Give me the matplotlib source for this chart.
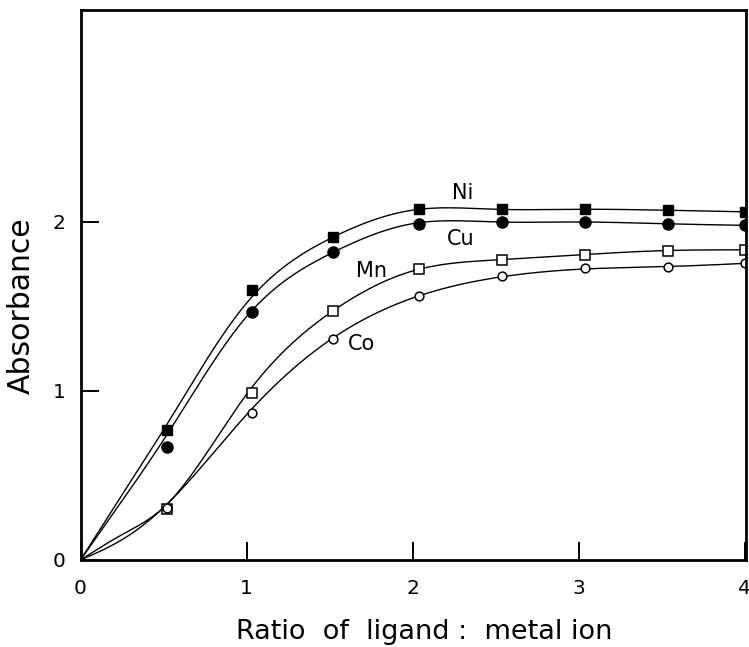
import numpy as np
import matplotlib
matplotlib.use("Agg")
import matplotlib.pyplot as plt

# Measured points (ratio of ligand : metal ion, absorbance)
x_pts = [0.52, 1.03, 1.52, 2.04, 2.54, 3.04, 3.54, 4.0]
ni_pts = [0.77, 1.60, 1.91, 2.075, 2.075, 2.075, 2.07, 2.06]
cu_pts = [0.67, 1.47, 1.82, 1.99, 2.00, 2.00, 1.99, 1.98]
mn_pts = [0.30, 0.99, 1.475, 1.72, 1.775, 1.805, 1.83, 1.835]
co_pts = [0.31, 0.87, 1.31, 1.56, 1.68, 1.725, 1.735, 1.755]

# Smooth fitted curves (node values)
x_fit = [0.0, 0.25, 0.5, 1.0, 1.5, 2.0, 2.5, 3.0, 3.5, 4.0]
ni_fit = [0.0, 0.385, 0.77, 1.52, 1.90, 2.07, 2.075, 2.075, 2.07, 2.06]
cu_fit = [0.0, 0.35, 0.71, 1.44, 1.81, 1.99, 2.00, 2.00, 1.99, 1.98]
mn_fit = [0.0, 0.15, 0.31, 0.98, 1.46, 1.71, 1.775, 1.805, 1.83, 1.835]
co_fit = [0.0, 0.12, 0.31, 0.86, 1.30, 1.55, 1.67, 1.72, 1.735, 1.755]

labels = ["Ni", "Cu", "Mn", "Co"]
label_pos = [(2.30, 2.17), (2.29, 1.90), (1.75, 1.71), (1.69, 1.28)]

x_ticks = [0, 1, 2, 3, 4]
y_ticks = [0, 1, 2]


def natural_spline(x, y, xn):
    x = np.asarray(x, float); y = np.asarray(y, float)
    n = len(x); h = np.diff(x)
    A = np.zeros((n, n)); b = np.zeros(n)
    A[0, 0] = 1; A[-1, -1] = 1
    for i in range(1, n - 1):
        A[i, i - 1] = h[i - 1]
        A[i, i] = 2 * (h[i - 1] + h[i])
        A[i, i + 1] = h[i]
        b[i] = 6 * ((y[i + 1] - y[i]) / h[i] - (y[i] - y[i - 1]) / h[i - 1])
    M = np.linalg.solve(A, b)
    idx = np.clip(np.searchsorted(x, xn) - 1, 0, n - 2)
    hi = h[idx]; t1 = x[idx + 1] - xn; t0 = xn - x[idx]
    return (M[idx] * t1**3 / (6 * hi) + M[idx + 1] * t0**3 / (6 * hi)
            + (y[idx] / hi - M[idx] * hi / 6) * t1
            + (y[idx + 1] / hi - M[idx + 1] * hi / 6) * t0)


fig = plt.figure(figsize=(7.49, 6.47), dpi=100)
ax = fig.add_axes([0.1075, 0.1345, 0.889, 0.850])

xs = np.linspace(0, 4, 500)
for fit in [ni_fit, cu_fit, mn_fit, co_fit]:
    ax.plot(xs, natural_spline(x_fit, fit, xs), color="black", lw=1.0)

ax.plot(x_pts, ni_pts, ls="none", marker="s", ms=7.5, mfc="black", mec="black")
ax.plot(x_pts, cu_pts, ls="none", marker="o", ms=8, mfc="black", mec="black")
ax.plot(x_pts, mn_pts, ls="none", marker="s", ms=6.5, mfc="white", mec="black", mew=1.1)
ax.plot(x_pts, co_pts, ls="none", marker="o", ms=6.3, mfc="white", mec="black", mew=1.1)

for lab, (lx, ly) in zip(labels, label_pos):
    ax.text(lx, ly, lab, fontsize=15, ha="center", va="center", family="DejaVu Sans")

ax.set_xlim(0, 4.01)
ax.set_ylim(0, 3.254)
ax.set_xticks(x_ticks)
ax.set_yticks(y_ticks)
ax.tick_params(direction="in", length=13, width=1.4, labelsize=14.5)
ax.tick_params(axis="x", pad=14)
ax.tick_params(axis="y", pad=11)
for s in ax.spines.values():
    s.set_linewidth(2)

ax.set_xlabel("Ratio  of  ligand :  metal ion", fontsize=19.5)
ax.xaxis.set_label_coords(0.516, -0.108)
ax.set_ylabel("Absorbance", fontsize=21.5)
ax.yaxis.set_label_coords(-0.067, 0.462)

fig.savefig("out.png", dpi=100)
